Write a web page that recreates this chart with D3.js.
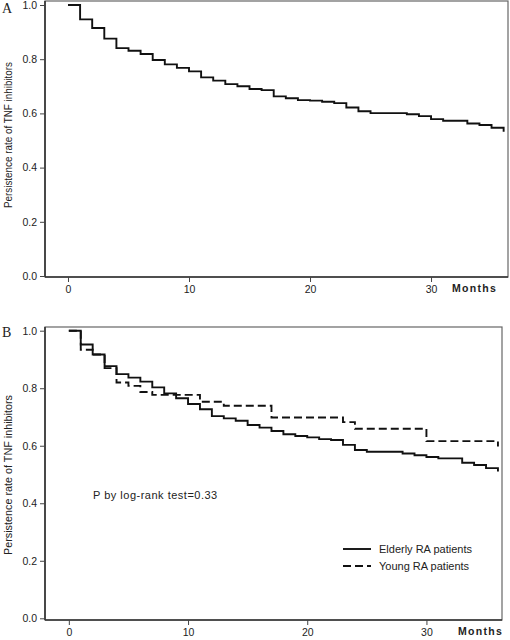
<!DOCTYPE html>
<html>
<head>
<meta charset="utf-8">
<script src="https://cdn.jsdelivr.net/npm/d3@7/dist/d3.min.js"></script>
<style>
  html, body { margin: 0; padding: 0; background: #fff; }
  svg { display: block; }
  text { font-family: "Liberation Sans", Arial, sans-serif; fill: #222; }
</style>
</head>
<body>
<svg id="chart" width="510" height="640"></svg>
<script>
// ---------- DATA ----------
const months = [0,1,2,3,4,5,6,7,8,9,10,11,12,13,14,15,16,17,18,19,20,21,22,23,24,25,26,27,28,29,30,31,32,33,34,35,36];

// Panel A: overall persistence of TNF inhibitors
const overallRate = [1.000,0.947,0.915,0.876,0.841,0.831,0.819,0.797,0.781,0.768,0.755,0.733,0.721,0.708,0.700,0.690,0.686,0.663,0.656,0.649,0.647,0.643,0.638,0.622,0.608,0.601,0.601,0.601,0.597,0.590,0.579,0.573,0.573,0.563,0.557,0.547,0.532];

// Panel B: elderly vs young RA patients
const elderlyRate = [1.000,0.952,0.917,0.877,0.849,0.837,0.823,0.803,0.782,0.765,0.745,0.727,0.703,0.695,0.687,0.672,0.663,0.651,0.640,0.634,0.629,0.623,0.620,0.603,0.585,0.579,0.579,0.579,0.573,0.567,0.561,0.556,0.556,0.541,0.533,0.522,0.510];
const youngRate   = [1.000,0.934,0.917,0.870,0.820,0.808,0.787,0.777,0.777,0.777,0.777,0.753,0.753,0.739,0.739,0.739,0.739,0.698,0.698,0.698,0.698,0.698,0.698,0.682,0.659,0.659,0.659,0.659,0.659,0.659,0.616,0.616,0.616,0.616,0.616,0.616,0.597];

const yTicks = [0.0, 0.2, 0.4, 0.6, 0.8, 1.0];
const xTicks = [0, 10, 20, 30];
const yLabel = "Persistence rate of TNF inhibitors";
const xLabel = "Months";
const seriesNames = ["Elderly RA patients", "Young RA patients"];
const pText = "P by log-rank test=0.33";

// ---------- DRAW ----------
const svg = d3.select("#chart");

function panel(cfg) {
  const x = d3.scaleLinear().domain(cfg.xDomain).range([cfg.left, cfg.right]);
  const y = d3.scaleLinear().domain([0, 1]).range([cfg.y0, cfg.y1]);
  const g = svg.append("g");

  // frame
  g.append("rect")
    .attr("x", cfg.left).attr("y", cfg.top)
    .attr("width", cfg.right - cfg.left).attr("height", cfg.bottom - cfg.top)
    .attr("fill", "none").attr("stroke", "#666").attr("stroke-width", 1.2);

  // y axis
  const yAxis = d3.axisLeft(y).tickValues(yTicks).tickFormat(d3.format(".1f")).tickSize(5).tickPadding(3);
  const ya = g.append("g").attr("transform", `translate(${cfg.left},0)`).call(yAxis);
  ya.select(".domain").attr("d", `M0,${cfg.top}V${cfg.bottom}`).attr("stroke", "#333").attr("stroke-width", 1.6);
  ya.selectAll(".tick line").attr("stroke", "#444");
  ya.selectAll(".tick text").style("font-family", '"Liberation Sans", Arial, sans-serif')
    .style("font-size", "10.5px").attr("fill", "#222");

  // x axis
  const xAxis = d3.axisBottom(x).tickValues(xTicks).tickFormat(d3.format("d")).tickSize(5).tickPadding(4);
  const xa = g.append("g").attr("transform", `translate(0,${cfg.bottom})`).call(xAxis);
  xa.select(".domain").attr("d", `M${cfg.left},0H${cfg.right}`).attr("stroke", "#333").attr("stroke-width", 1.6);
  xa.selectAll(".tick line").attr("stroke", "#444");
  xa.selectAll(".tick text").style("font-family", '"Liberation Sans", Arial, sans-serif')
    .style("font-size", "10.5px").attr("fill", "#222");

  // Months label
  g.append("text").attr("x", cfg.monthsX).attr("y", cfg.bottom + 15)
    .style("font-size", "10.5px").style("font-weight", "bold").style("letter-spacing", "1.3px")
    .text(xLabel);

  // y label
  g.append("text")
    .attr("transform", `translate(${cfg.yLabelX},${cfg.yLabelY}) rotate(-90)`)
    .attr("text-anchor", "middle")
    .attr("textLength", cfg.yLabelLen).attr("lengthAdjust", "spacingAndGlyphs")
    .style("font-size", cfg.yLabelSize)
    .text(yLabel);

  // panel letter
  g.append("text").attr("x", 2).attr("y", cfg.letterY)
    .style("font-family", '"Liberation Serif", "Times New Roman", serif')
    .style("font-size", "14px").text(cfg.letter);

  const line = d3.line().x((d, i) => x(months[i])).y(d => y(d)).curve(d3.curveStepAfter);
  cfg.series.forEach(s => {
    g.append("path").datum(s.values)
      .attr("d", line)
      .attr("fill", "none")
      .attr("stroke", "#111")
      .attr("stroke-width", 1.9)
      .attr("stroke-dasharray", s.dash || null);
  });
  return { g, x, y };
}

panel({
  letter: "A", letterY: 13,
  left: 45, right: 508, top: 1, bottom: 277,
  xDomain: [-1.9, 36.36], y0: 276, y1: 5,
  monthsX: 452, yLabelX: 12, yLabelY: 135, yLabelLen: 146, yLabelSize: "10.5px",
  series: [{ values: overallRate }]
});

const B = panel({
  letter: "B", letterY: 337,
  left: 45, right: 502, top: 327, bottom: 620,
  xDomain: [-2.0, 36.34], y0: 618.3, y1: 330.7,
  monthsX: 458, yLabelX: 12, yLabelY: 475, yLabelLen: 160, yLabelSize: "11px",
  series: [{ values: elderlyRate }, { values: youngRate, dash: "8,4" }]
});

// P value text
B.g.append("text").attr("x", 93).attr("y", 499)
  .style("font-size", "11px").style("letter-spacing", "0.5px")
  .text(pText);

// legend
const legend = B.g.append("g").attr("transform", "translate(343,549)");
seriesNames.forEach((name, i) => {
  const row = legend.append("g").attr("transform", `translate(0,${i * 17})`);
  row.append("line").attr("x1", 0).attr("x2", 28).attr("y1", 0).attr("y2", 0)
    .attr("stroke", "#111").attr("stroke-width", 1.9)
    .attr("stroke-dasharray", i === 1 ? "8,4" : null);
  row.append("text").attr("x", 36).attr("y", 4).style("font-size", "11px").text(name);
});
</script>
</body>
</html>
